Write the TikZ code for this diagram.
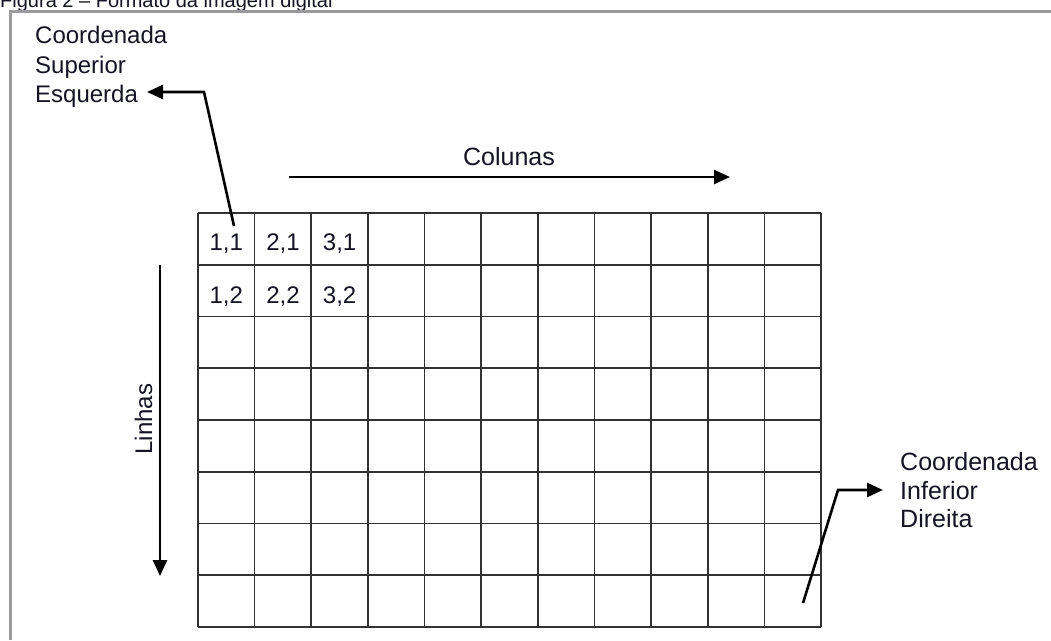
\documentclass[tikz,border=0pt]{standalone}
\usepackage{fontspec}
\setmainfont{Liberation Sans}
\usetikzlibrary{arrows.meta}
\definecolor{txt}{RGB}{20,20,35}
\definecolor{gridc}{RGB}{50,50,50}
\definecolor{framec}{RGB}{155,155,155}
\begin{document}
\begin{tikzpicture}[x=1pt,y=-1pt,
  lbl/.style={inner sep=0pt, anchor=base west, text=txt, font=\fontsize{24}{28}\selectfont},
  cell/.style={inner sep=0pt, anchor=base, text=txt, font=\fontsize{24}{28}\selectfont},
  conn/.style={line width=2.6pt, -{Triangle[length=16pt,width=14pt]}, line join=miter},
  gridline/.style={draw=gridc, line width=1.6pt}]
\useasboundingbox (0,0) rectangle (1051,640);
\clip (0,0) rectangle (1051,640);
\fill[white] (0,0) rectangle (1051,640);
% title (cut off at the top, as in the reference)
\node[lbl, font=\fontsize{20}{24}\selectfont] (title) at (0,7) {Figura 2 – Formato da imagem digital};
% frame
\draw[framec, line width=3pt] (10,640) -- (10,11.5) -- (1051,11.5);
% grid 11 x 8
\foreach \i in {0,...,11} \draw[gridline] ({198+56.636*\i},213) -- ({198+56.636*\i},627);
\foreach \j in {0,...,8} \draw[gridline] (198,{213+51.75*\j}) -- (821,{213+51.75*\j});
% cell labels
\node[cell] (c11) at (226.3,250) {1,1};
\node[cell] (c21) at (283.0,250) {2,1};
\node[cell] (c31) at (339.6,250) {3,1};
\node[cell] (c12) at (226.3,303) {1,2};
\node[cell] (c22) at (283.0,303) {2,2};
\node[cell] (c32) at (339.6,303) {3,2};
% upper-left label
\node[lbl] (ul1) at (35,43) {Coordenada};
\node[lbl] (ul2) at (35,73) {Superior};
\node[lbl] (ul3) at (35,102) {Esquerda};
\coordinate (ulstart) at (234,226);
\coordinate (ulbend) at (204,92);
\coordinate (ultip) at (147,92);
\draw[conn] (ulstart) -- (ulbend) -- (ultip);
% columns
\node[cell, font=\fontsize{25}{28}\selectfont] (colunas) at (509,165) {Colunas};
\coordinate (colA) at (289,177);
\coordinate (colB) at (730,177);
\draw[conn] (colA) -- (colB);
% rows
\node[cell, rotate=90] (linhas) at (152,419) {Linhas};
\coordinate (linA) at (160,265);
\coordinate (linB) at (160,576);
\draw[conn] (linA) -- (linB);
% lower-right label
\node[lbl, font=\fontsize{25}{28}\selectfont] (lr1) at (900,470) {Coordenada};
\node[lbl, font=\fontsize{25}{28}\selectfont] (lr2) at (900,499) {Inferior};
\node[lbl, font=\fontsize{25}{28}\selectfont] (lr3) at (900,527) {Direita};
\coordinate (lrstart) at (803,603);
\coordinate (lrbend) at (838,490);
\coordinate (lrtip) at (883,490);
\draw[conn] (lrstart) -- (lrbend) -- (lrtip);
\end{tikzpicture}
\end{document}
